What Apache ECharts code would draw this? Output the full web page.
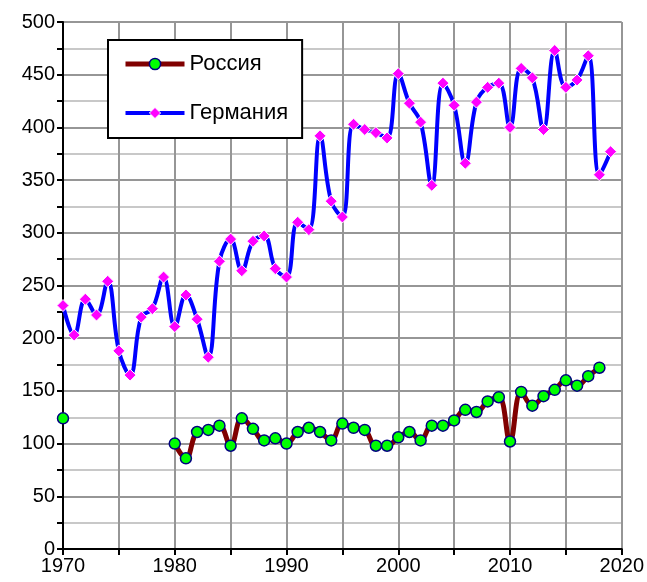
<!DOCTYPE html>
<html><head><meta charset="utf-8">
<script src="https://cdn.jsdelivr.net/npm/echarts@6/dist/echarts.min.js"></script>
<style>html,body{margin:0;padding:0;background:#fff}#c{width:647px;height:582px}</style>
</head><body><div id="c"></div>
<script>
const germanyYears = [1970,1971,1972,1973,1974,1975,1976,1977,1978,1979,1980,1981,1982,1983,1984,1985,1986,1987,1988,1989,1990,1991,1992,1993,1994,1995,1996,1997,1998,1999,2000,2001,2002,2003,2004,2005,2006,2007,2008,2009,2010,2011,2012,2013,2014,2015,2016,2017,2018,2019];
const germanyValues = [231,203,237,222,254,188,165,220,228,258,211,241,218,182,273,294,264,292,297,266,258,310,303,392,330,315,403,398,395,390,451,423,405,345,442,421,366,424,438,442,400,456,447,398,473,438,445,468,355,377];
const russiaYears = [1970,1980,1981,1982,1983,1984,1985,1986,1987,1988,1989,1990,1991,1992,1993,1994,1995,1996,1997,1998,1999,2000,2001,2002,2003,2004,2005,2006,2007,2008,2009,2010,2011,2012,2013,2014,2015,2016,2017,2018];
const russiaValues = [124,100,86,111,113,117,98,124,114,103,105,100,111,115,111,103,119,115,113,98,98,106,111,103,117,117,122,132,130,140,144,102,149,136,145,151,160,155,164,172];
const seriesNames = ['Россия','Германия'];

function pairs(xs, ys){ return xs.map((x,i)=>[x, ys[i]]); }
// Russia: break the line between 1970 and 1980
const russiaData = [];
russiaYears.forEach((y,i)=>{ russiaData.push([y, russiaValues[i]]); if (y===1970) russiaData.push([1975, null]); });

const chart = echarts.init(document.getElementById('c'), null, {renderer:'canvas'});
const font = 'Arial, "Liberation Sans", sans-serif';
chart.setOption({
  animation:false,
  backgroundColor:'#fff',
  grid:{left:63, right:24, top:22, bottom:33},
  legend:{
    left:108, top:40, orient:'vertical',
    backgroundColor:'#fff', borderColor:'#000', borderWidth:2,
    padding:[13,14,14,15], itemGap:27, itemWidth:59, itemHeight:14,
    textStyle:{fontFamily:font, fontSize:22, color:'#000', lineHeight:22},
    data: [
      {name:seriesNames[0], lineStyle:{width:5, color:'#800000'}, itemStyle:{color:'#00ff00', borderColor:'#000080', borderWidth:1.5}},
      {name:seriesNames[1], lineStyle:{width:4, color:'#0000ff'}, itemStyle:{color:'#ff00ff', borderColor:'#ffffff', borderWidth:1}}
    ]
  },
  xAxis:{
    type:'value', min:1970, max:2020, interval:10,
    axisLine:{onZero:false, lineStyle:{color:'#000', width:2}},
    axisTick:{show:true, length:6, lineStyle:{color:'#000', width:2}},
    minorTick:{show:true, splitNumber:2, length:6, lineStyle:{color:'#000', width:2}},
    splitLine:{show:true, lineStyle:{color:'#969696', width:2}},
    minorSplitLine:{show:true, lineStyle:{color:'#969696', width:2}},
    axisLabel:{fontFamily:font, fontSize:20, color:'#000', margin:7, formatter:v=>String(v)}
  },
  yAxis:{
    type:'value', min:0, max:500, interval:50,
    axisLine:{show:true, lineStyle:{color:'#000', width:2}},
    axisTick:{show:true, length:6, lineStyle:{color:'#000', width:2}},
    minorTick:{show:true, splitNumber:2, length:6, lineStyle:{color:'#000', width:2}},
    splitLine:{show:true, lineStyle:{color:'#969696', width:2}},
    minorSplitLine:{show:true, lineStyle:{color:'#c8c8c8', width:2}},
    axisLabel:{fontFamily:font, fontSize:20, color:'#000', margin:8}
  },
  series:[
    {
      name:seriesNames[0], type:'line', data:russiaData, smooth:0.4, connectNulls:false,
      lineStyle:{color:'#800000', width:5},
      itemStyle:{color:'#00ff00', borderColor:'#000080', borderWidth:1.5},
      symbol:'circle', symbolSize:11, showAllSymbol:true, z:3
    },
    {
      name:seriesNames[1], type:'line', data:pairs(germanyYears, germanyValues), smooth:0.4,
      lineStyle:{color:'#0000ff', width:4},
      itemStyle:{color:'#ff00ff', borderColor:'#ffffff', borderWidth:1},
      symbol:'diamond', symbolSize:12, showAllSymbol:true, z:2
    }
  ]
});
</script></body></html>
